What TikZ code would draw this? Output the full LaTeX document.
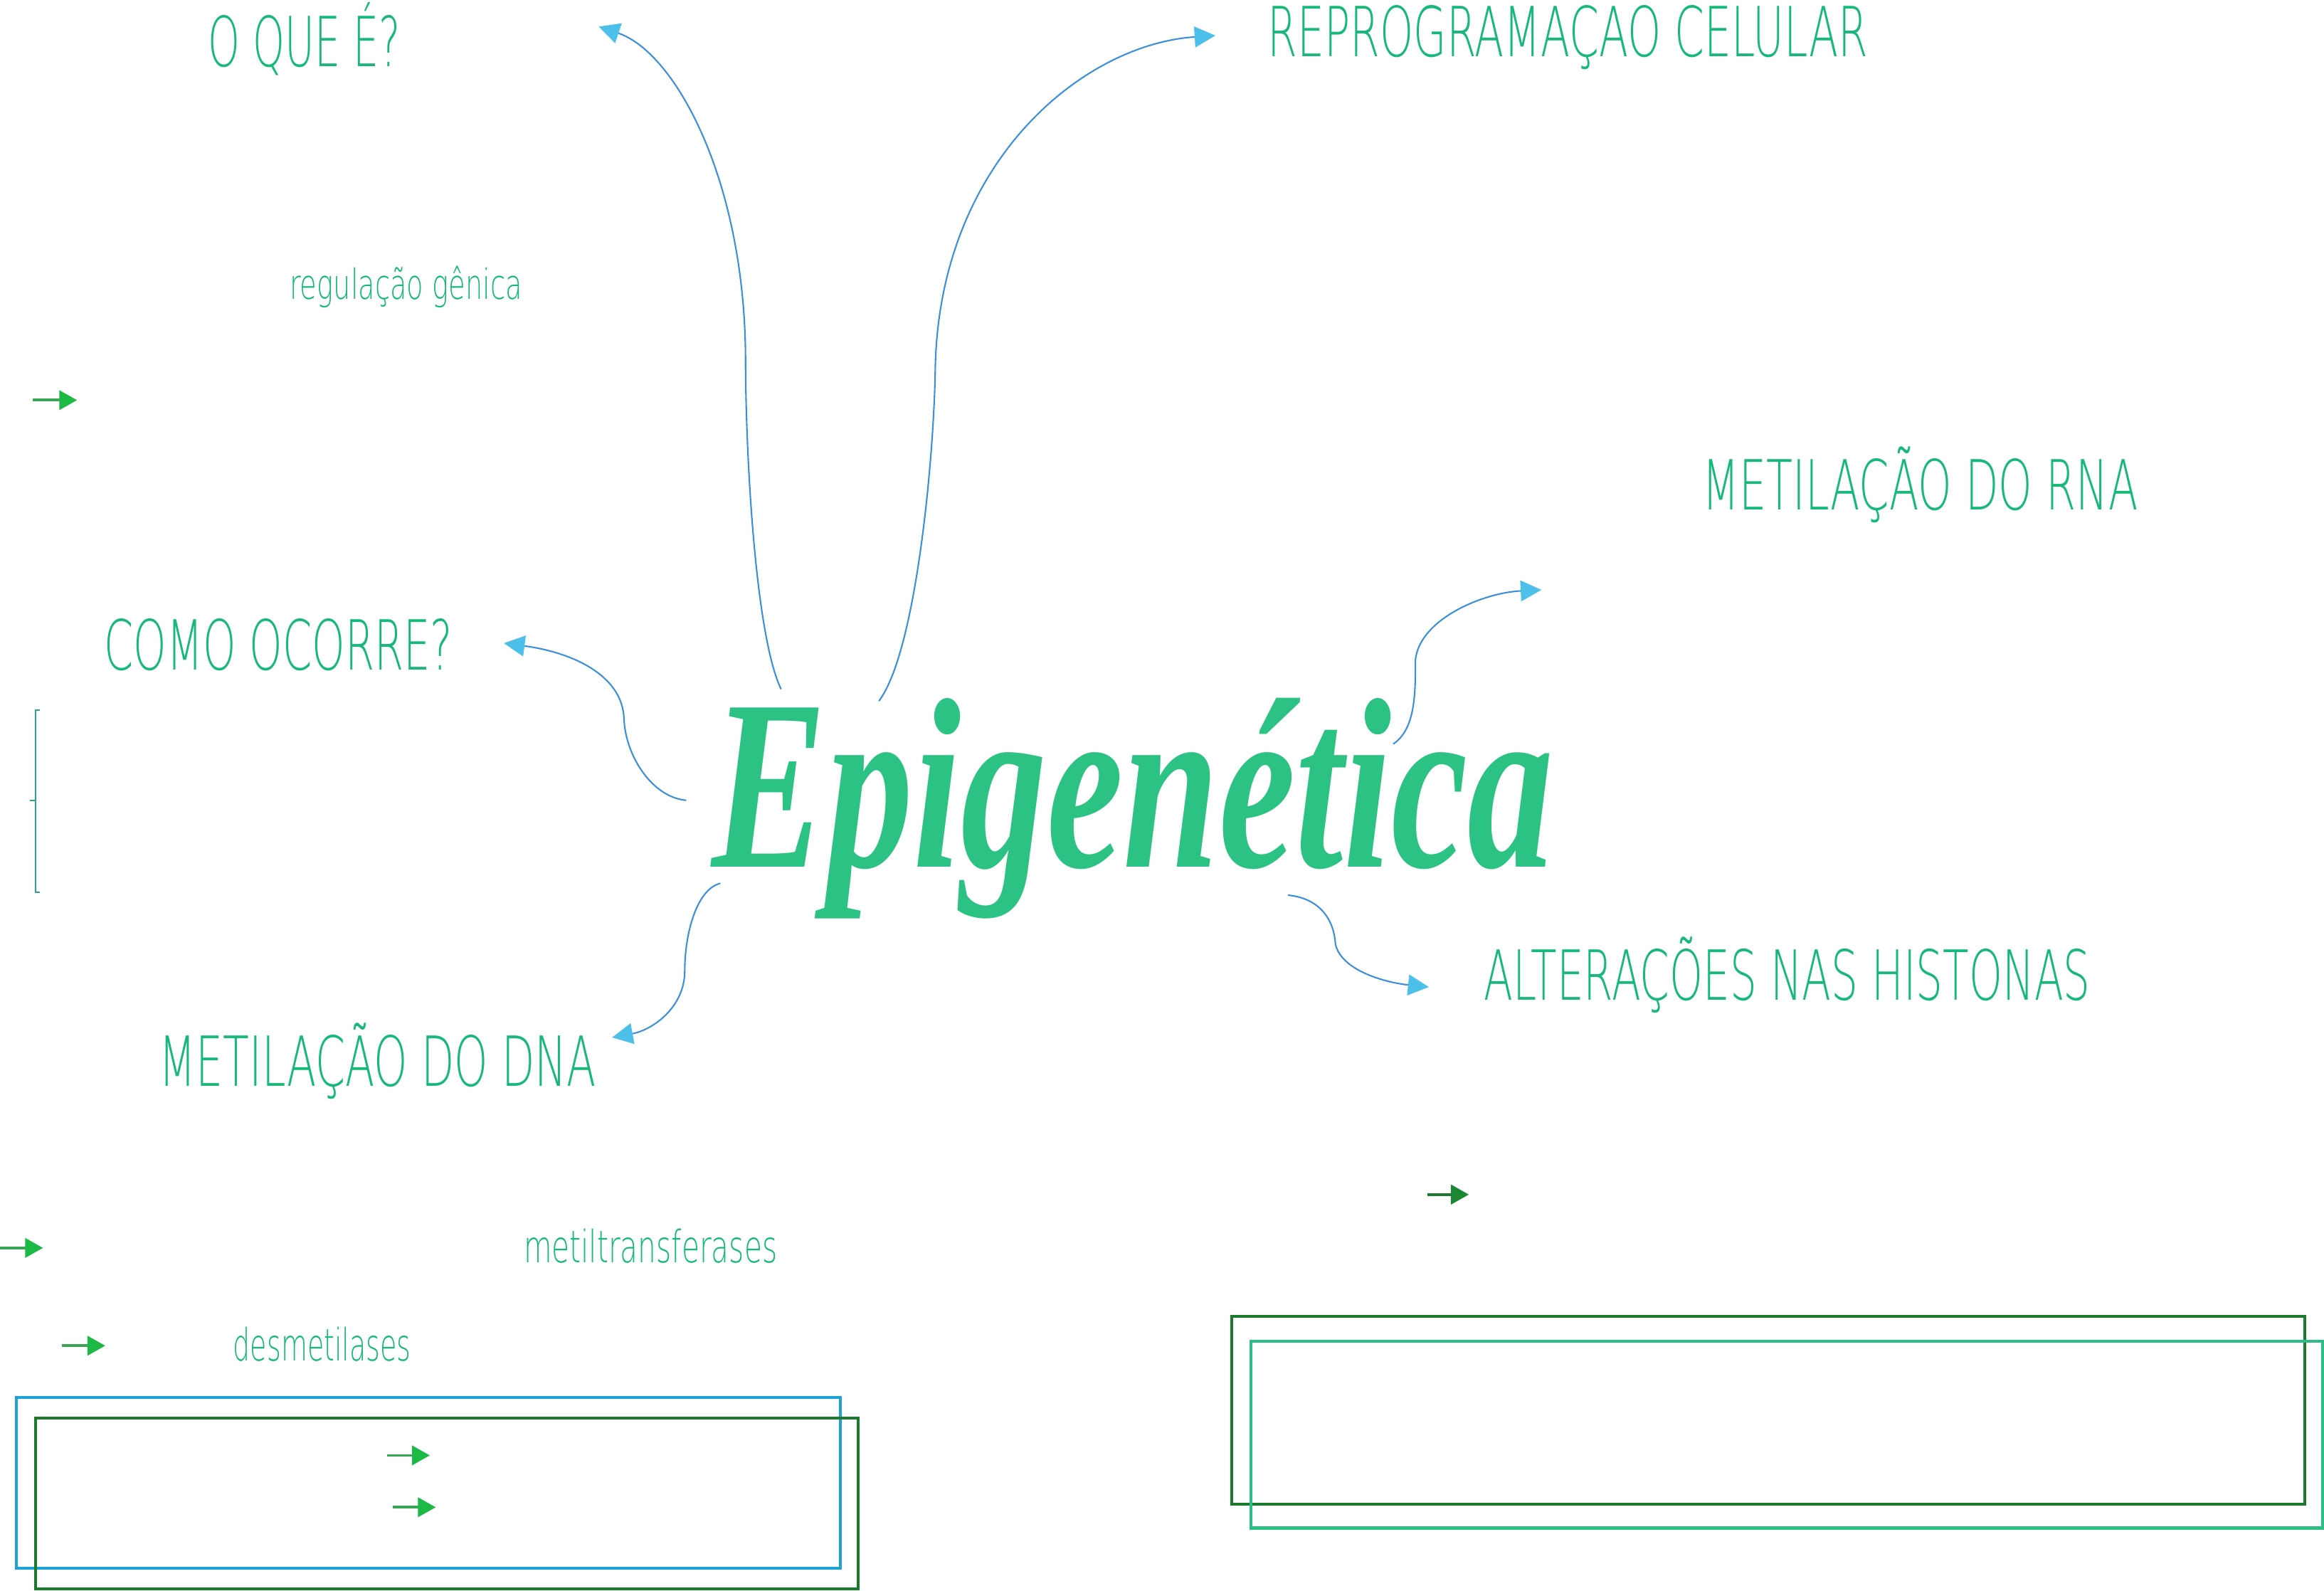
\documentclass[tikz,border=0pt]{standalone}
\usepackage{fontspec}
\usepackage{graphicx}
\usetikzlibrary{arrows.meta}
\newfontfamily\thinfont{DejaVu Sans ExtraLight}
\newfontfamily\titlefont{Liberation Serif}
\definecolor{headc}{HTML}{17B87A}
\definecolor{titlec}{HTML}{2BC283}
\definecolor{lineblue}{HTML}{3A8EDC}
\definecolor{headblue}{HTML}{4CC0E8}
\definecolor{arrgreen}{HTML}{1DB946}
\definecolor{arrline}{HTML}{3AA655}
\definecolor{rblue}{HTML}{1EA0D8}
\definecolor{rdgreen}{HTML}{1C7A2C}
\definecolor{rtgreen}{HTML}{2BBF84}
\definecolor{brkc}{HTML}{2AA58A}
\newcommand\fitw[2]{\resizebox{#1}{\height}{#2}}
\tikzset{
  hd/.style={inner sep=0pt, anchor=base west, text=headc, font=\thinfont\fontsize{23.3}{28}\selectfont},
  sm/.style={inner sep=0pt, anchor=base west, text=headc, font=\thinfont\fontsize{15}{18}\selectfont},
  conn/.style={draw=lineblue, line width=0.5pt, -{Triangle[length=7pt,width=7pt,color=headblue]}},
  garr/.style={draw=arrline, line width=0.9pt, -{Triangle[length=6pt,width=6.5pt,color=arrgreen]}},
  brk/.style={draw=brkc, line width=0.5pt},
}
\begin{document}
\begin{tikzpicture}[x=0.5pt,y=-0.5pt]
\useasboundingbox (0,0) rectangle (1568,1073.5);
% headings
\node[hd] (oque) at (140,45) {\fitw{65pt}{O QUE É?}};
\node[hd] (repro) at (855,38) {\fitw{202.5pt}{REPROGRAMAÇÃO CELULAR}};
\node[hd] (rna) at (1148,344) {\fitw{147pt}{METILAÇÃO DO RNA}};
\node[hd] (como) at (70,452) {\fitw{117.5pt}{COMO OCORRE?}};
\node[hd] (hist) at (1001,675) {\fitw{204.5pt}{ALTERAÇÕES NAS HISTONAS}};
\node[hd] (dna) at (107,733) {\fitw{147.5pt}{METILAÇÃO DO DNA}};
% small texts
\node[sm, font=\thinfont\fontsize{14}{17}\selectfont] (reg) at (195,202) {\fitw{78.5pt}{regulação gênica}};
\node[sm] (mtf) at (353,852) {\fitw{85.5pt}{metiltransferases}};
\node[sm] (dsm) at (157,918) {\fitw{60pt}{desmetilases}};
% title
\node[inner sep=0pt, anchor=base west, text=titlec, font=\titlefont\bfseries\itshape\fontsize{82}{88}\selectfont] (epi) at (480,585) {\fitw{284pt}{Epigenética}};
% connector coordinates
\coordinate (e1) at (527,465); \coordinate (t1) at (404,18);
\coordinate (e2) at (593,473); \coordinate (t2) at (820,24);
\coordinate (e3) at (940,502); \coordinate (t3) at (1040,398);
\coordinate (e4) at (463,540); \coordinate (t4) at (340,434);
\coordinate (e5) at (486,596); \coordinate (t5) at (413,700);
\coordinate (e6) at (869,604); \coordinate (t6) at (964,666);
\draw[conn] (e1) .. controls (510,430) and (503,310) .. (503,240) .. controls (502,120) and (455,35) .. (t1);
\draw[conn] (e2) .. controls (618,440) and (630,310) .. (631,250) .. controls (633,110) and (730,30) .. (t2);
\draw[conn] (e3) .. controls (955,492) and (955,468) .. (955,445) .. controls (958,418) and (1000,400) .. (t3);
\draw[conn] (e4) .. controls (440,538) and (422,510) .. (421,485) .. controls (420,455) and (385,440) .. (t4);
\draw[conn] (e5) .. controls (470,600) and (462,630) .. (462,655) .. controls (462,680) and (440,695) .. (t5);
\draw[conn] (e6) .. controls (890,606) and (900,620) .. (901,637) .. controls (905,655) and (935,663) .. (t6);
% small green arrows
\coordinate (g1a) at (22,270); \coordinate (g1b) at (52,270);
\coordinate (g2a) at (0,842); \coordinate (g2b) at (29,842);
\coordinate (g3a) at (42,908); \coordinate (g3b) at (71,908);
\coordinate (g4a) at (261,982); \coordinate (g4b) at (290,982);
\coordinate (g5a) at (265,1017); \coordinate (g5b) at (294,1017);
\coordinate (g6a) at (963,806); \coordinate (g6b) at (991,806);
\draw[garr] (g1a) -- (g1b);
\draw[garr] (g2a) -- (g2b);
\draw[garr] (g3a) -- (g3b);
\draw[garr] (g4a) -- (g4b);
\draw[garr] (g5a) -- (g5b);
\draw[garr, draw=rdgreen, -{Triangle[length=6pt,width=6.5pt,color=rdgreen!80!arrgreen]}] (g6a) -- (g6b);
% bracket
\draw[brk] (27,479) -- (24,479) -- (24,602) -- (27,602);
\draw[brk] (24,540) -- (20,540);
% rectangles
\draw[draw=rblue, line width=1pt] (11,943) rectangle (567,1058);
\draw[draw=rdgreen, line width=1pt] (24,957) rectangle (579,1072);
\draw[draw=rdgreen, line width=1pt] (831,888) rectangle (1555,1015);
\draw[draw=rtgreen, line width=1pt] (844,905) rectangle (1567,1031);
\end{tikzpicture}
\end{document}
